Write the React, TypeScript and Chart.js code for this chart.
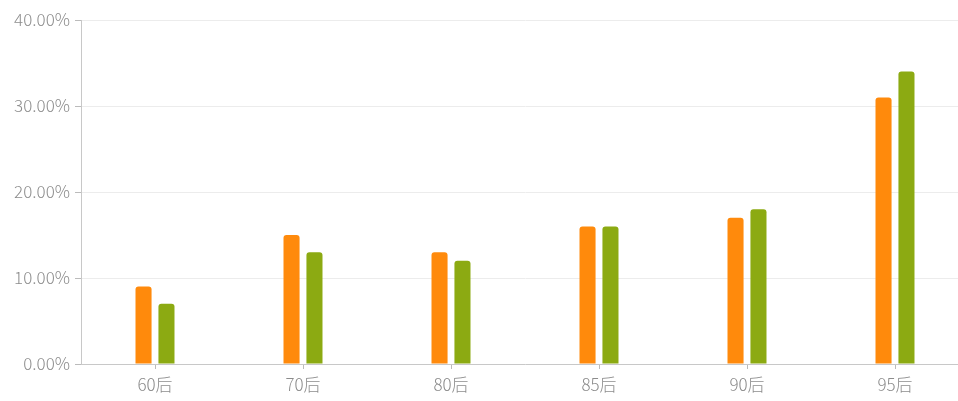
import React, { useEffect, useRef } from "react";
import { Chart, registerables } from "chart.js";

Chart.register(...registerables);

const categories = ["60后", "70后", "80后", "85后", "90后", "95后"];
const seriesA = [9, 15, 13, 16, 17, 31];
const seriesB = [7, 13, 12, 16, 18, 34];
const yTicks = [0, 10, 20, 30, 40];

export default function App() {
  const ref = useRef<HTMLCanvasElement | null>(null);
  useEffect(() => {
    if (!ref.current) return;
    const font = { family: "'Noto Sans CJK SC', sans-serif", size: 17, weight: "300" as any };
    const chart = new Chart(ref.current, {
      type: "bar",
      data: {
        labels: categories,
        datasets: [
          { label: "A", data: seriesA, backgroundColor: "#ff8a0c", borderRadius: { topLeft: 3, topRight: 3 }, borderSkipped: "bottom" },
          { label: "B", data: seriesB, backgroundColor: "#8caa12", borderRadius: { topLeft: 3, topRight: 3 }, borderSkipped: "bottom" },
        ],
      },
      options: {
        responsive: false,
        animation: false,
        layout: { padding: { top: 20, left: 0, right: 0, bottom: 0 } },
        plugins: { legend: { display: false }, tooltip: { enabled: false } },
        datasets: { bar: { categoryPercentage: 0.31, barPercentage: 0.7 } },
        scales: {
          x: {
            grid: { display: true, offset: false, drawOnChartArea: false, drawTicks: true, tickLength: 5, color: "#bbb" },
            border: { color: "#c8c8c8", width: 1 },
            ticks: { color: "#8c8c8c", font, padding: 5 },
            afterFit: (s: any) => { s.height = 37; },
          },
          y: {
            min: 0,
            max: 40,
            afterBuildTicks: (s: any) => { s.ticks = yTicks.map((v) => ({ value: v })); },
            grid: { color: "#ececec", tickLength: 6, tickColor: "#bbb" },
            border: { color: "#c8c8c8", width: 1 },
            ticks: { color: "#8c8c8c", font, padding: 5, callback: (v: any) => Number(v).toFixed(2) + "%" },
            afterFit: (s: any) => { s.width = 81; },
          },
        },
      },
    });
    return () => chart.destroy();
  }, []);
  return (
    <div style={{ position: "fixed", left: 0, top: 0, width: 958, height: 401, overflow: "hidden", background: "#fff" }}>
      <canvas ref={ref} width={969} height={401} style={{ display: "block" }} />
    </div>
  );
}
